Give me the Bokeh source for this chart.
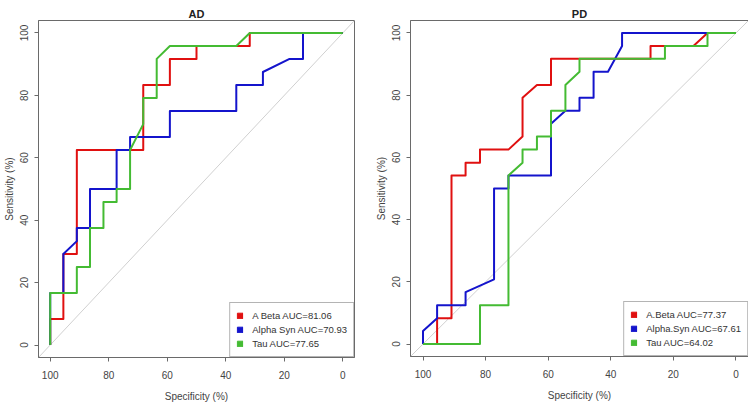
from bokeh.plotting import figure
from bokeh.layouts import row
from bokeh.models import Range1d, FixedTicker, Legend, LegendItem
from bokeh.embed import file_html
from bokeh.resources import INLINE

# ---- data (Specificity %, Sensitivity %) ----
ad_abeta_spec = [100, 100, 95.5, 95.5, 90.9, 90.9, 68.2, 68.2, 59.1, 59.1, 50, 50, 31.8, 31.8, 0]
ad_abeta_sens = [0, 8.3, 8.3, 29.2, 29.2, 62.5, 62.5, 83.3, 83.3, 91.7, 91.7, 95.8, 95.8, 100, 100]

ad_asyn_spec = [100, 100, 95.5, 95.5, 90.9, 90.9, 86.4, 86.4, 77.3, 77.3, 72.7, 72.7, 59.1, 59.1,
                36.4, 36.4, 27.3, 27.3, 18.2, 13.6, 13.6, 0]
ad_asyn_sens = [0, 16.7, 16.7, 29.2, 33.3, 37.5, 37.5, 50, 50, 62.5, 62.5, 66.7, 66.7, 75,
                75, 83.3, 83.3, 87.5, 91.7, 91.7, 100, 100]

ad_tau_spec = [100, 100, 90.9, 90.9, 86.4, 86.4, 81.8, 81.8, 77.3, 77.3, 72.7, 72.7, 68.2, 68.2,
               63.6, 63.6, 59.1, 36.4, 31.8, 0]
ad_tau_sens = [0, 16.7, 16.7, 25, 25, 37.5, 37.5, 45.8, 45.8, 50, 50, 62.5, 70.8, 79.2,
               79.2, 91.7, 95.8, 95.8, 100, 100]

pd_abeta_spec = [100, 95.5, 95.5, 90.9, 90.9, 86.4, 86.4, 81.8, 81.8, 72.7, 68.2, 68.2, 63.6,
                 59.1, 59.1, 27.3, 27.3, 13.6, 9.1, 0]
pd_abeta_sens = [0, 0, 8.3, 8.3, 54.2, 54.2, 58.3, 58.3, 62.5, 62.5, 66.7, 79.2, 83.3,
                 83.3, 91.7, 91.7, 95.8, 95.8, 100, 100]

pd_asyn_spec = [100, 100, 95.5, 95.5, 86.4, 86.4, 77.3, 77.3, 72.7, 72.7, 59.1, 59.1, 54.5,
                50, 50, 45.5, 45.5, 40.9, 36.4, 36.4, 0]
pd_asyn_sens = [0, 4.2, 8.3, 12.5, 12.5, 16.7, 20.8, 50, 50, 54.2, 54.2, 70.8, 75,
                75, 79.2, 79.2, 87.5, 87.5, 95.8, 100, 100]

pd_tau_spec = [100, 81.8, 81.8, 72.7, 72.7, 68.2, 68.2, 63.6, 63.6, 59.1, 59.1, 54.5, 54.5,
               50, 50, 22.7, 22.7, 9.1, 9.1, 0]
pd_tau_sens = [0, 0, 12.5, 12.5, 54.2, 58.3, 62.5, 62.5, 66.7, 66.7, 75, 75, 83.3,
               87.5, 91.7, 91.7, 95.8, 95.8, 100, 100]

ad_labels = ["A Beta AUC=81.06", "Alpha Syn AUC=70.93", "Tau AUC=77.65"]
pd_labels = ["A.Beta AUC=77.37", "Alpha.Syn AUC=67.61", "Tau AUC=64.02"]
ticks = [0, 20, 40, 60, 80, 100]
diag_x = [110, -10]
diag_y = [-10, 110]
NAN = [float("nan")]

COLORS = ["#e01010", "#1414cc", "#44bb33"]
FONT = "Liberation Sans"
FRAME = "#6a6a6a"


def make_panel(title, series, labels, fw, fh, bl, br):
    p = figure(frame_width=fw, frame_height=fh, output_backend="svg", toolbar_location=None,
               x_range=Range1d(104, -4), y_range=Range1d(-4, 104),
               min_border_left=bl, min_border_right=br, min_border_top=20, min_border_bottom=20)
    p.title.text = title
    p.title.align = "center"
    p.title.text_font = FONT
    p.title.text_font_size = "11px"
    p.title.text_font_style = "bold"
    p.title.text_color = "#222222"
    p.title.standoff = 1
    p.title.offset = 0
    p.xgrid.visible = False
    p.ygrid.visible = False
    p.outline_line_color = FRAME
    p.outline_line_width = 1
    p.background_fill_color = "white"
    p.border_fill_color = "white"
    for ax in (p.xaxis[0], p.yaxis[0]):
        ax.ticker = FixedTicker(ticks=ticks)
        ax.axis_line_color = FRAME
        ax.major_tick_line_color = FRAME
        ax.major_tick_out = 4
        ax.major_tick_in = 0
        ax.minor_tick_line_color = None
        ax.major_label_text_font = FONT
        ax.major_label_text_font_size = "10px"
        ax.major_label_text_color = "#444444"
        ax.axis_label_text_font = FONT
        ax.axis_label_text_font_size = "10px"
        ax.axis_label_text_font_style = "normal"
        ax.axis_label_text_color = "#444444"
    p.xaxis.axis_label = "Specificity (%)"
    p.yaxis.axis_label = "Sensitivity (%)"
    p.yaxis.major_label_orientation = "vertical"
    p.xaxis.major_label_standoff = 9
    p.yaxis.major_label_standoff = 6
    p.xaxis.axis_label_standoff = 9
    p.yaxis.axis_label_standoff = 3

    p.line(diag_x, diag_y, line_color="#d0d0d0", line_width=1)
    items = []
    for (sx, sy), c, lab in zip(series, COLORS, labels):
        p.line(sx, sy, line_color=c, line_width=2, line_join="round")
        r = p.quad(left=NAN, right=NAN, top=NAN, bottom=NAN, fill_color=c, line_color=c)
        items.append(LegendItem(label=lab, renderers=[r]))
    leg = Legend(items=items, location="bottom_right", margin=0, padding=6, spacing=1,
                 glyph_width=7, glyph_height=7, label_standoff=9, label_height=13,
                 label_text_font=FONT, label_text_font_size="9.5px", label_text_color="#333333",
                 border_line_color=FRAME, border_line_width=1, background_fill_alpha=1)
    p.add_layout(leg, "center")
    return p


p1 = make_panel("AD", [(ad_abeta_spec, ad_abeta_sens), (ad_asyn_spec, ad_asyn_sens),
                       (ad_tau_spec, ad_tau_sens)], ad_labels, 316, 337, 32, 18)
p2 = make_panel("PD", [(pd_abeta_spec, pd_abeta_sens), (pd_asyn_spec, pd_asyn_sens),
                       (pd_tau_spec, pd_tau_sens)], pd_labels, 338, 336, 30, 2)

layout = row(p1, p2)
open("out.html", "w").write(file_html(layout, INLINE))
